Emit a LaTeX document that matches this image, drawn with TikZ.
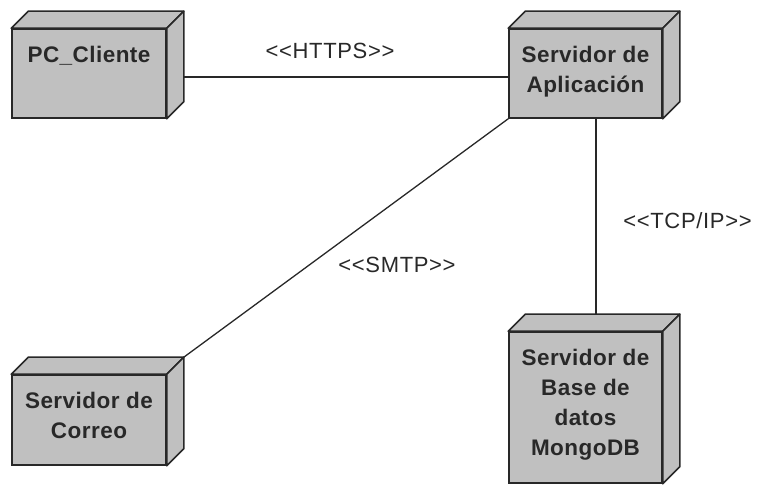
\documentclass[tikz,border=0pt]{standalone}
\usepackage{fontspec}
\setmainfont{Liberation Sans}
\newfontfamily\boxfont[LetterSpace=2]{Liberation Sans}
\newfontfamily\labelfont[LetterSpace=3]{Liberation Sans}
\usetikzlibrary{calc}
\definecolor{nodegray}{RGB}{192,192,192}
\definecolor{inkdark}{RGB}{40,40,40}
\tikzset{
  front/.style={draw=inkdark, fill=nodegray, line width=1.6pt, inner sep=0pt},
  face/.style={draw=inkdark, fill=nodegray, line width=1.6pt, line join=round},
  nodetext/.style={anchor=north, inner sep=0pt, align=center, text=inkdark,
    font=\boxfont\fontsize{22.5}{30}\selectfont\bfseries},
  link/.style={draw=inkdark, line width=1.3pt},
  stereo/.style={inner sep=0pt, text=inkdark, font=\labelfont\fontsize{22}{26}\selectfont}
}
% a UML node: front face plus top and right faces seen in perspective
\newcommand{\umlnode}[5]{%
  \node[front, minimum width=#3, minimum height=#4] (#1) at (#2) {};
  \path[face] (#1.north west) -- ++(17,17) -- ($(#1.north east)+(17,17)$) -- (#1.north east) -- cycle;
  \path[face] (#1.north east) -- ++(17,17) -- ($(#1.south east)+(17,17)$) -- (#1.south east) -- cycle;
  \node[nodetext] (#1-t) at ($(#1.north)+(0,-18)$) {#5};
}
\begin{document}
\begin{tikzpicture}[x=1pt,y=1pt]
  \useasboundingbox (0,0) rectangle (757,486);
  % nodes
  \umlnode{pc}{89,412.5}{154pt}{89pt}{PC\_Cliente}
  \umlnode{app}{585.5,412.5}{153pt}{89pt}{Servidor de\\Aplicación}
  \umlnode{mail}{89,66}{154pt}{90pt}{Servidor de\\Correo}
  \umlnode{db}{585.5,78.5}{153pt}{151pt}{Servidor de\\Base de\\datos\\MongoDB}
  % communication paths
  \coordinate (pc-back) at ($(pc.north east)+(17,17)$);
  \coordinate (app-l) at ($(app.west)+(0,-3.5)$);
  \draw[link] (app-l) -- (app-l -| pc-back);
  \coordinate (mail-back) at ($(mail.north east)+(17,17)$);
  \draw[link] (mail-back) -- (app.south west);
  \draw[link] ($(app.south)+(10.5,0)$) -- ($(db.north)+(10.5,17)$);
  % stereotypes
  \node[stereo] (l-https) at (330,435) {<{}<HTTPS>{}>};
  \node[stereo] (l-smtp) at (397,221) {<{}<SMTP>{}>};
  \node[stereo] (l-tcp) at (687.5,265) {<{}<TCP/IP>{}>};
\end{tikzpicture}
\end{document}
